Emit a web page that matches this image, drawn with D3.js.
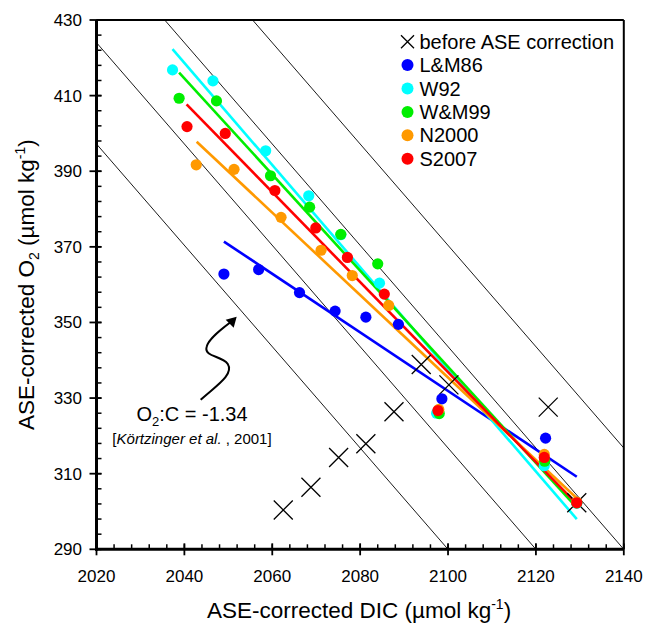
<!DOCTYPE html>
<html>
<head>
<meta charset="utf-8">
<title>ASE-corrected O2 vs DIC</title>
<style>
  body { margin: 0; background: #fff; }
  svg text { font-family: "Liberation Sans", Arial, sans-serif; fill: #000; }
</style>
</head>
<body>
<div id="chart"></div>
<script src="https://d3js.org/d3.v7.min.js"></script>
<script>
// ---- data ----
const dicTicks = [2020, 2040, 2060, 2080, 2100, 2120, 2140];
const o2Ticks = [290, 310, 330, 350, 370, 390, 410, 430];

const seriesNames = ["L&M86", "W92", "W&M99", "N2000", "S2007"];

const lmDIC = [2049.0, 2056.9, 2066.2, 2074.3, 2081.3, 2088.7, 2098.6, 2122.2, 2129.3];
const lmO2  = [362.8, 364.0, 357.9, 353.0, 351.4, 349.5, 329.8, 319.4, 302.4];

const w92DIC = [2037.3, 2046.5, 2058.5, 2068.3, 2075.6, 2084.4, 2097.4, 2121.9, 2129.3];
const w92O2  = [416.8, 413.9, 395.4, 383.5, 373.2, 360.4, 326.0, 312.1, 302.2];

const wmDIC = [2038.8, 2047.3, 2059.6, 2068.5, 2075.6, 2084.0, 2098.0, 2122.0, 2129.3];
const wmO2  = [409.3, 408.6, 388.8, 380.5, 373.3, 365.5, 325.9, 313.3, 302.3];

const n2000DIC = [2042.7, 2051.3, 2062.0, 2071.1, 2078.2, 2086.5, 2097.9, 2121.9, 2129.3];
const n2000O2  = [391.7, 390.5, 377.8, 369.1, 362.4, 354.5, 327.0, 315.1, 302.5];

const s2007DIC = [2040.6, 2049.3, 2060.6, 2069.9, 2077.1, 2085.5, 2097.7, 2121.9, 2129.3];
const s2007O2  = [401.8, 400.0, 384.9, 375.0, 367.2, 357.5, 326.7, 314.3, 302.3];

// fitted lines: [start DIC, start O2, end DIC, end O2]
const lmFit    = [2049.0, 371.4, 2129.3, 309.2];
const w92Fit   = [2037.3, 422.3, 2129.3, 298.0];
const wmFit    = [2038.8, 416.1, 2129.3, 301.0];
const n2000Fit = [2042.8, 397.8, 2129.3, 303.5];
const s2007Fit = [2040.5, 407.7, 2129.3, 302.0];

// before ASE correction
const rawDIC = [2062.5, 2068.8, 2075.1, 2081.3, 2087.7, 2093.9, 2100.2, 2122.8, 2129.3];
const rawO2  = [300.4, 306.4, 314.3, 317.9, 326.4, 338.9, 333.5, 327.6, 302.3];

// O2:C = -1.34 reference lines, given by the DIC where each meets O2 = 290
const refSlope = -1.34;
const refDICat290 = [2100, 2120, 2140, 2160];

// annotation arrow tip (data units)
const arrowTip = [2051.9, 351.5];

// ---- styles ----
const colors = ["#0000ff", "#00ffff", "#00ee00", "#ff9900", "#ff0000"];

const W = 645, H = 623;
const x = d3.scaleLinear().domain([2020, 2140]).range([96.5, 623.8]);
const y = d3.scaleLinear().domain([290, 430]).range([549.3, 20]);

const svg = d3.select("#chart").append("svg")
  .attr("width", W).attr("height", H);

svg.append("defs").append("clipPath").attr("id", "plot")
  .append("rect")
  .attr("x", x(2020)).attr("y", y(430))
  .attr("width", x(2140) - x(2020)).attr("height", y(290) - y(430));

// reference lines
const refG = svg.append("g").attr("clip-path", "url(#plot)");
refDICat290.forEach(d0 => {
  const a = 290 - refSlope * (d0 - 2020); // O2 at DIC 2020
  refG.append("line")
    .attr("x1", x(2020)).attr("y1", y(a))
    .attr("x2", x(d0)).attr("y2", y(290))
    .attr("stroke", "#000").attr("stroke-width", 0.9);
});

// series
const series = [
  { dic: lmDIC, o2: lmO2, fit: lmFit },
  { dic: w92DIC, o2: w92O2, fit: w92Fit },
  { dic: wmDIC, o2: wmO2, fit: wmFit },
  { dic: n2000DIC, o2: n2000O2, fit: n2000Fit },
  { dic: s2007DIC, o2: s2007O2, fit: s2007Fit }
];

series.forEach((s, i) => {
  svg.append("line")
    .attr("x1", x(s.fit[0])).attr("y1", y(s.fit[1]))
    .attr("x2", x(s.fit[2])).attr("y2", y(s.fit[3]))
    .attr("stroke", colors[i]).attr("stroke-width", 2.6);
});

// crosses
const cross = svg.append("g");
rawDIC.forEach((d, i) => {
  const cx = x(d), cy = y(rawO2[i]), h = 9.5;
  cross.append("path")
    .attr("d", `M${cx - h},${cy - h}L${cx + h},${cy + h}M${cx - h},${cy + h}L${cx + h},${cy - h}`)
    .attr("stroke", "#000").attr("stroke-width", 1.3).attr("fill", "none");
});

series.forEach((s, i) => {
  svg.append("g").selectAll("circle")
    .data(s.dic)
    .join("circle")
    .attr("cx", d => x(d))
    .attr("cy", (d, j) => y(s.o2[j]))
    .attr("r", 5.6)
    .attr("fill", colors[i]);
});

// frame
svg.append("line").attr("x1", x(2020)).attr("x2", x(2140)).attr("y1", y(430)).attr("y2", y(430))
  .attr("stroke", "#000").attr("stroke-width", 2);
svg.append("line").attr("x1", x(2140)).attr("x2", x(2140)).attr("y1", y(430)).attr("y2", y(290))
  .attr("stroke", "#000").attr("stroke-width", 2);

// minor ticks
const axes = svg.append("g").attr("stroke", "#000");
d3.range(2020, 2140.1, 4).forEach(v => {
  axes.append("line").attr("x1", x(v)).attr("x2", x(v)).attr("y1", y(290)).attr("y2", y(290) - 5)
    .attr("stroke-width", 1.5);
});
d3.range(290, 430.1, 4).forEach(v => {
  axes.append("line").attr("x1", x(2020)).attr("x2", x(2020) + 5).attr("y1", y(v)).attr("y2", y(v))
    .attr("stroke-width", 1.5);
});
// major ticks
dicTicks.forEach(v => {
  axes.append("line").attr("x1", x(v)).attr("x2", x(v)).attr("y1", y(290) - 6).attr("y2", y(290) + 6)
    .attr("stroke-width", 1.8);
});
o2Ticks.forEach(v => {
  axes.append("line").attr("x1", x(2020) - 7).attr("x2", x(2020) + 5).attr("y1", y(v)).attr("y2", y(v))
    .attr("stroke-width", 1.8);
});
// axis lines
axes.append("line").attr("x1", x(2020) - 1.5).attr("x2", x(2140)).attr("y1", y(290)).attr("y2", y(290))
  .attr("stroke-width", 3);
axes.append("line").attr("x1", x(2020)).attr("x2", x(2020)).attr("y1", y(430)).attr("y2", y(290) + 1.5)
  .attr("stroke-width", 3);

// tick labels
svg.append("g").selectAll("text").data(dicTicks).join("text")
  .attr("x", d => x(d)).attr("y", 582)
  .attr("text-anchor", "middle").attr("font-size", 17)
  .text(d => d);
svg.append("g").selectAll("text").data(o2Ticks).join("text")
  .attr("x", 82).attr("y", d => y(d) + 6)
  .attr("text-anchor", "end").attr("font-size", 17)
  .text(d => d);

// axis titles
const xt = svg.append("text").attr("x", 359).attr("y", 618)
  .attr("text-anchor", "middle").attr("font-size", 22.5);
xt.append("tspan").text("ASE-corrected DIC (µmol kg");
xt.append("tspan").attr("font-size", 14).attr("dy", -9).text("-1");
xt.append("tspan").attr("dy", 9).text(")");

const yt = svg.append("text")
  .attr("transform", `translate(34,${(y(290) + y(430)) / 2}) rotate(-90)`)
  .attr("text-anchor", "middle").attr("font-size", 22.5);
yt.append("tspan").text("ASE-corrected O");
yt.append("tspan").attr("font-size", 14).attr("dy", 5).text("2");
yt.append("tspan").attr("dy", -5).text(" (µmol kg");
yt.append("tspan").attr("font-size", 14).attr("dy", -9).text("-1");
yt.append("tspan").attr("dy", 9).text(")");

// legend
const legend = svg.append("g");
const lx = 407.5, ly0 = 41.7, lstep = 23.4;
legend.append("path")
  .attr("d", `M${lx - 6.5},${ly0 - 6.5}L${lx + 6.5},${ly0 + 6.5}M${lx - 6.5},${ly0 + 6.5}L${lx + 6.5},${ly0 - 6.5}`)
  .attr("stroke", "#000").attr("stroke-width", 1.3);
legend.append("text").attr("x", lx + 12).attr("y", ly0 + 7).attr("font-size", 20)
  .text("before ASE correction");
seriesNames.forEach((n, i) => {
  const ly = ly0 + lstep * (i + 1);
  legend.append("circle").attr("cx", lx).attr("cy", ly).attr("r", 6).attr("fill", colors[i]);
  legend.append("text").attr("x", lx + 12).attr("y", ly + 7).attr("font-size", 20).text(n);
});

// annotation
const tx = x(arrowTip[0]), ty = y(arrowTip[1]);
svg.append("path")
  .attr("d", `M${tx - 36},${ty + 83} C${tx - 22},${ty + 70} ${tx - 2},${ty + 58} ${tx - 9},${ty + 47}` +
             ` C${tx - 15},${ty + 39} ${tx - 33},${ty + 40} ${tx - 30},${ty + 30}` +
             ` C${tx - 28},${ty + 21} ${tx - 12},${ty + 10} ${tx - 3},${ty + 3}`)
  .attr("fill", "none").attr("stroke", "#000").attr("stroke-width", 2);
svg.append("path")
  .attr("d", `M${tx},${ty} L${tx - 11},${ty + 3} L${tx - 3},${ty + 11} Z`)
  .attr("fill", "#000");

const ann = svg.append("text").attr("x", 192).attr("y", 421)
  .attr("text-anchor", "middle").attr("font-size", 20);
ann.append("tspan").text("O");
ann.append("tspan").attr("font-size", 13).attr("dy", 5).text("2");
ann.append("tspan").attr("dy", -5).text(":C = -1.34");

const ref = svg.append("text").attr("x", 192).attr("y", 444)
  .attr("text-anchor", "middle").attr("font-size", 15);
ref.append("tspan").text("[");
ref.append("tspan").attr("font-style", "italic").text("Körtzinger et al.");
ref.append("tspan").text(" , 2001]");
</script>
</body>
</html>
